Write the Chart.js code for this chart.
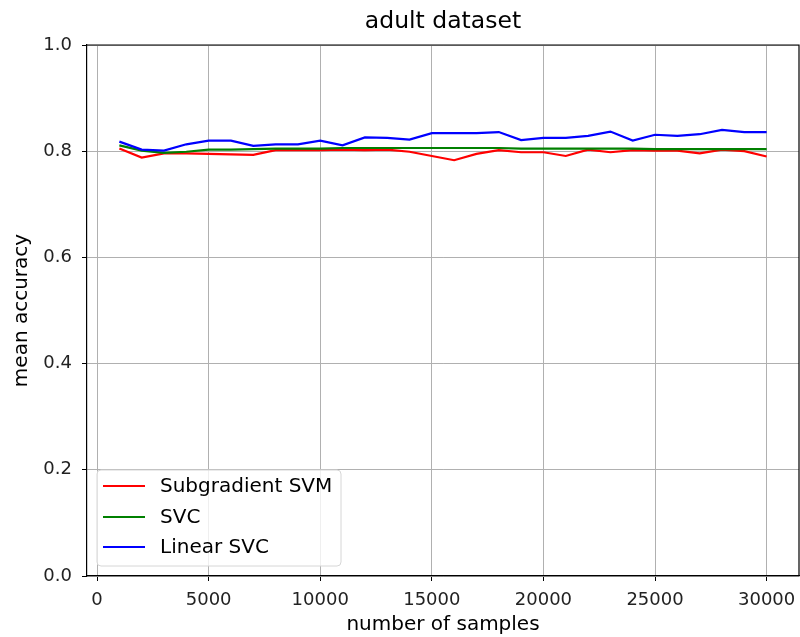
<!DOCTYPE html>
<html>
<head>
<meta charset="utf-8">
<script src="https://cdn.jsdelivr.net/npm/chart.js@4/dist/chart.umd.min.js"></script>
<style>
  html, body { margin: 0; padding: 0; background: #fff; }
  canvas { display: block; }
</style>
</head>
<body>
<canvas id="chart" width="800" height="637"></canvas>
<script>
const samples = [1000, 2000, 3000, 4000, 5000, 6000, 7000, 8000, 9000, 10000,
                 11000, 12000, 13000, 14000, 15000, 16000, 17000, 18000, 19000, 20000,
                 21000, 22000, 23000, 24000, 25000, 26000, 27000, 28000, 29000, 30000];
const subgradientSvm = [0.805, 0.788, 0.796, 0.796, 0.795, 0.794, 0.793, 0.802, 0.802, 0.802,
                        0.803, 0.802, 0.803, 0.799, 0.791, 0.783, 0.795, 0.802, 0.798, 0.798,
                        0.791, 0.803, 0.798, 0.802, 0.801, 0.801, 0.796, 0.803, 0.800, 0.790];
const svc = [0.811, 0.801, 0.797, 0.799, 0.803, 0.803, 0.804, 0.805, 0.805, 0.805,
             0.806, 0.806, 0.806, 0.806, 0.806, 0.806, 0.806, 0.806, 0.805, 0.805,
             0.805, 0.805, 0.805, 0.805, 0.804, 0.804, 0.804, 0.804, 0.804, 0.804];
const linearSvc = [0.818, 0.803, 0.801, 0.813, 0.820, 0.820, 0.810, 0.813, 0.813, 0.820,
                   0.811, 0.826, 0.825, 0.822, 0.834, 0.834, 0.834, 0.836, 0.821, 0.825,
                   0.825, 0.829, 0.837, 0.820, 0.831, 0.829, 0.832, 0.840, 0.836, 0.836];
const xTicks = [0, 5000, 10000, 15000, 20000, 25000, 30000];
const yTicks = [0, 0.2, 0.4, 0.6, 0.8, 1.0];

const FONT = '"DejaVu Sans", sans-serif';
const TICK_SIZE = 18;
const LABEL_SIZE = 20;

const toPoints = (ys) => ys.map((y, i) => ({ x: samples[i], y: y }));

// title, top/right spines and legend drawn the way matplotlib does
const mplExtras = {
    id: 'mplExtras',
    afterDraw(chart) {
        const ctx = chart.ctx;
        const area = chart.chartArea;
        ctx.save();

        ctx.strokeStyle = '#000';
        ctx.lineWidth = 1.2;
        ctx.beginPath();
        ctx.moveTo(area.left, area.top);
        ctx.lineTo(area.right, area.top);
        ctx.lineTo(area.right, area.bottom);
        ctx.stroke();

        ctx.fillStyle = '#000';
        ctx.font = '23.5px ' + FONT;
        ctx.textAlign = 'center';
        ctx.textBaseline = 'middle';
        ctx.fillText('adult dataset', (area.left + area.right) / 2, 22);

        // legend box
        const bx = 97, by = 470, bw = 244, bh = 96, r = 4;
        ctx.beginPath();
        ctx.moveTo(bx + r, by);
        ctx.arcTo(bx + bw, by, bx + bw, by + bh, r);
        ctx.arcTo(bx + bw, by + bh, bx, by + bh, r);
        ctx.arcTo(bx, by + bh, bx, by, r);
        ctx.arcTo(bx, by, bx + bw, by, r);
        ctx.closePath();
        ctx.fillStyle = 'rgba(255,255,255,0.8)';
        ctx.fill();
        ctx.strokeStyle = '#d6d6d6';
        ctx.lineWidth = 1;
        ctx.stroke();

        const rows = [486, 517, 547];
        const legendSets = chart.data.datasets.slice().sort((a, b) => b.order - a.order);
        ctx.font = LABEL_SIZE + 'px ' + FONT;
        ctx.textAlign = 'left';
        legendSets.forEach((ds, i) => {
            ctx.strokeStyle = ds.borderColor;
            ctx.lineWidth = 2.2;
            ctx.beginPath();
            ctx.moveTo(103, rows[i]);
            ctx.lineTo(145, rows[i]);
            ctx.stroke();
            ctx.fillStyle = '#000';
            ctx.fillText(ds.label, 160, rows[i] + 1);
        });
        ctx.restore();
    }
};

new Chart(document.getElementById('chart').getContext('2d'), {
    type: 'line',
    data: {
        datasets: [
            { label: 'Subgradient SVM', data: toPoints(subgradientSvm), borderColor: '#ff0000', order: 3 },
            { label: 'SVC', data: toPoints(svc), borderColor: '#008000', order: 2 },
            { label: 'Linear SVC', data: toPoints(linearSvc), borderColor: '#0000ff', order: 1 }
        ]
    },
    options: {
        responsive: false,
        animation: false,
        layout: { padding: { top: 45, right: 1, left: 0, bottom: 0 } },
        elements: {
            line: { borderWidth: 2.2, tension: 0, fill: false },
            point: { radius: 0 }
        },
        plugins: {
            legend: { display: false },
            title: { display: false },
            tooltip: { enabled: false }
        },
        scales: {
            x: {
                type: 'linear',
                min: -450,
                max: 31450,
                afterBuildTicks: (scale) => { scale.ticks = xTicks.map(v => ({ value: v })); },
                afterFit: (scale) => {
                    scale.height = 61;
                    scale.paddingLeft = 0;
                    scale.paddingRight = 0;
                },
                grid: { color: '#b0b0b0', lineWidth: 1, tickColor: '#000', tickLength: 5 },
                border: { color: '#000', width: 1.2 },
                ticks: {
                    color: '#222',
                    font: { family: FONT, size: TICK_SIZE },
                    padding: 9,
                    maxRotation: 0,
                    callback: (v) => String(v)
                },
                title: {
                    display: true,
                    text: 'number of samples',
                    color: '#000',
                    font: { family: FONT, size: LABEL_SIZE },
                    padding: { top: 0, bottom: 0 }
                }
            },
            y: {
                min: 0,
                max: 1,
                afterBuildTicks: (scale) => { scale.ticks = yTicks.map(v => ({ value: v })); },
                afterFit: (scale) => {
                    scale.width = 87;
                    scale.paddingTop = 0;
                    scale.paddingBottom = 0;
                },
                grid: { color: '#b0b0b0', lineWidth: 1, tickColor: '#000', tickLength: 5 },
                border: { color: '#000', width: 1.2 },
                ticks: {
                    color: '#222',
                    font: { family: FONT, size: TICK_SIZE },
                    padding: 10,
                    callback: (v) => v.toFixed(1)
                },
                title: {
                    display: true,
                    text: 'mean accuracy',
                    color: '#000',
                    font: { family: FONT, size: LABEL_SIZE },
                    padding: { top: 10, bottom: 0 }
                }
            }
        }
    },
    plugins: [mplExtras]
});
</script>
</body>
</html>
